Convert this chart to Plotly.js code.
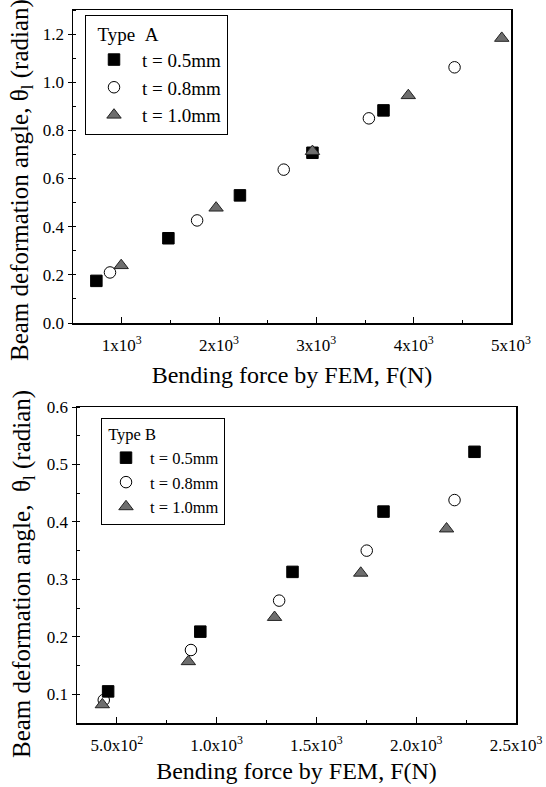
<!DOCTYPE html>
<html>
<head>
<meta charset="utf-8">
<script src="https://cdn.plot.ly/plotly-3.0.1.min.js"></script>
<style>
  html, body { margin: 0; padding: 0; background: #fff; }
  #chart { width: 546px; height: 787px; }
</style>
</head>
<body>
<div id="chart"></div>
<script>
// ---------- Data ----------
const seriesNames = ["t = 0.5mm", "t = 0.8mm", "t = 1.0mm"];

// Type A (top panel)
const aSquareX = [740, 1480, 2215, 2960, 3690];
const aSquareY = [0.175, 0.352, 0.530, 0.707, 0.883];
const aCircleX = [880, 1775, 2665, 3540, 4420];
const aCircleY = [0.210, 0.426, 0.637, 0.850, 1.062];
const aTriX = [995, 1970, 2960, 3945, 4905];
const aTriY = [0.239, 0.478, 0.713, 0.945, 1.183];

// Type B (bottom panel)
const bSquareX = [456, 918, 1380, 1836, 2292];
const bSquareY = [0.105, 0.209, 0.313, 0.418, 0.522];
const bCircleX = [434, 871, 1313, 1752, 2192];
const bCircleY = [0.090, 0.177, 0.263, 0.350, 0.438];
const bTriX = [427, 858, 1290, 1722, 2152];
const bTriY = [0.082, 0.157, 0.234, 0.311, 0.388];

// Tick labels
const aXTickVals = [1000, 2000, 3000, 4000, 5000];
const aXTickText = ["1x10<sup>3</sup>", "2x10<sup>3</sup>", "3x10<sup>3</sup>", "4x10<sup>3</sup>", "5x10<sup>3</sup>"];
const aYTickVals = [0.0, 0.2, 0.4, 0.6, 0.8, 1.0, 1.2];
const bXTickVals = [500, 1000, 1500, 2000, 2500];
const bXTickText = ["5.0x10<sup>2</sup>", "1.0x10<sup>3</sup>", "1.5x10<sup>3</sup>", "2.0x10<sup>3</sup>", "2.5x10<sup>3</sup>"];
const bYTickVals = [0.1, 0.2, 0.3, 0.4, 0.5, 0.6];

// ---------- Styles ----------
const FONT = "Liberation Serif";
const squareM = { symbol: "square", size: 11.5, color: "#000", line: { color: "#000", width: 1 } };
const circleM = { symbol: "circle-open", size: 11.5, color: "#000", line: { color: "#000", width: 1 } };
const triM = { symbol: "triangle-up", size: 12.5, color: "#6e6e6e", line: { color: "#222", width: 1 } };

function tr(x, y, name, marker, xa, ya, leg) {
  return { type: "scatter", mode: "markers", x: x, y: y, name: name,
           marker: marker, xaxis: xa, yaxis: ya, legend: leg, cliponaxis: false };
}

const data = [
  tr(aSquareX, aSquareY, seriesNames[0], squareM, "x", "y", "legend"),
  tr(aCircleX, aCircleY, seriesNames[1], circleM, "x", "y", "legend"),
  tr(aTriX, aTriY, seriesNames[2], triM, "x", "y", "legend"),
  tr(bSquareX, bSquareY, seriesNames[0], squareM, "x2", "y2", "legend2"),
  tr(bCircleX, bCircleY, seriesNames[1], circleM, "x2", "y2", "legend2"),
  tr(bTriX, bTriY, seriesNames[2], triM, "x2", "y2", "legend2")
];

const W = 546, H = 787;
function fx(px) { return px / W; }
function fy(py) { return 1 - py / H; }

const axisCommon = {
  showline: true, linecolor: "#000", linewidth: 1.5, mirror: true,
  showgrid: false, zeroline: false, tickcolor: "#000",
  tickfont: { family: FONT, size: 17, color: "#000" },
  fixedrange: true
};

const yTitleA = "Beam deformation angle, θ<sub>l</sub> (radian)";
const yTitleB = "Beam deformation angle,  θ<sub>l</sub> (radian)";
const xTitle = "Bending force by FEM, F(N)";

const layout = {
  width: W, height: H,
  margin: { l: 0, r: 0, t: 0, b: 0 },
  paper_bgcolor: "#fff", plot_bgcolor: "#fff",
  font: { family: FONT, color: "#000" },
  xaxis: Object.assign({}, axisCommon, {
    domain: [fx(73), fx(511)], anchor: "y", range: [500, 5000],
    tickmode: "array", tickvals: aXTickVals, ticktext: aXTickText,
    ticks: "inside", ticklen: 6, tickwidth: 1, ticklabelstandoff: 6,
    minor: { dtick: 500, tick0: 0, ticks: "inside", ticklen: 3, tickcolor: "#000" },
    title: { text: xTitle, font: { family: FONT, size: 24, color: "#000" }, standoff: 12 }
  }),
  yaxis: Object.assign({}, axisCommon, {
    domain: [fy(323), fy(10)], anchor: "x", range: [0, 1.3],
    tickmode: "array", tickvals: aYTickVals, tickformat: ".1f",
    ticks: "outside", ticklen: 4, tickwidth: 1,
    minor: { dtick: 0.1, tick0: 0, ticks: "inside", ticklen: 3, tickcolor: "#000" }
  }),
  xaxis2: Object.assign({}, axisCommon, {
    domain: [fx(77), fx(516)], anchor: "y2", range: [300, 2500],
    tickmode: "array", tickvals: bXTickVals, ticktext: bXTickText,
    ticks: "inside", ticklen: 6, tickwidth: 1, ticklabelstandoff: 6,
    minor: { dtick: 250, tick0: 0, ticks: "inside", ticklen: 3, tickcolor: "#000" },
    title: { text: xTitle, font: { family: FONT, size: 24, color: "#000" }, standoff: 8 }
  }),
  yaxis2: Object.assign({}, axisCommon, {
    domain: [fy(723), fy(407)], anchor: "x2", range: [0.05, 0.6],
    tickmode: "array", tickvals: bYTickVals, tickformat: ".1f",
    ticks: "outside", ticklen: 4, tickwidth: 1,
    minor: { dtick: 0.05, tick0: 0, ticks: "inside", ticklen: 3, tickcolor: "#000" }
  }),
  annotations: [
    { text: yTitleA, xref: "paper", yref: "paper", x: fx(22), y: fy(180),
      xanchor: "center", yanchor: "middle", textangle: -90, showarrow: false,
      font: { family: FONT, size: 25, color: "#000" } },
    { text: yTitleB, xref: "paper", yref: "paper", x: fx(23), y: fy(574),
      xanchor: "center", yanchor: "middle", textangle: -90, showarrow: false,
      font: { family: FONT, size: 25, color: "#000" } }
  ],
  legend: {
    x: fx(85), y: fy(15), xanchor: "left", yanchor: "top",
    bgcolor: "#fff", bordercolor: "#000", borderwidth: 1,
    font: { family: FONT, size: 19, color: "#000" },
    itemwidth: 46,
    title: { text: "\u00a0\u00a0Type\u00a0\u00a0A", font: { family: FONT, size: 19, color: "#000" } }
  },
  legend2: {
    x: fx(101), y: fy(418), xanchor: "left", yanchor: "top",
    bgcolor: "#fff", bordercolor: "#000", borderwidth: 1,
    font: { family: FONT, size: 16.5, color: "#000" },
    itemwidth: 38,
    title: { text: "\u00a0Type B", font: { family: FONT, size: 16.5, color: "#000" } }
  },
  showlegend: true
};

Plotly.newPlot("chart", data, layout, { staticPlot: true, displayModeBar: false });
</script>
</body>
</html>
